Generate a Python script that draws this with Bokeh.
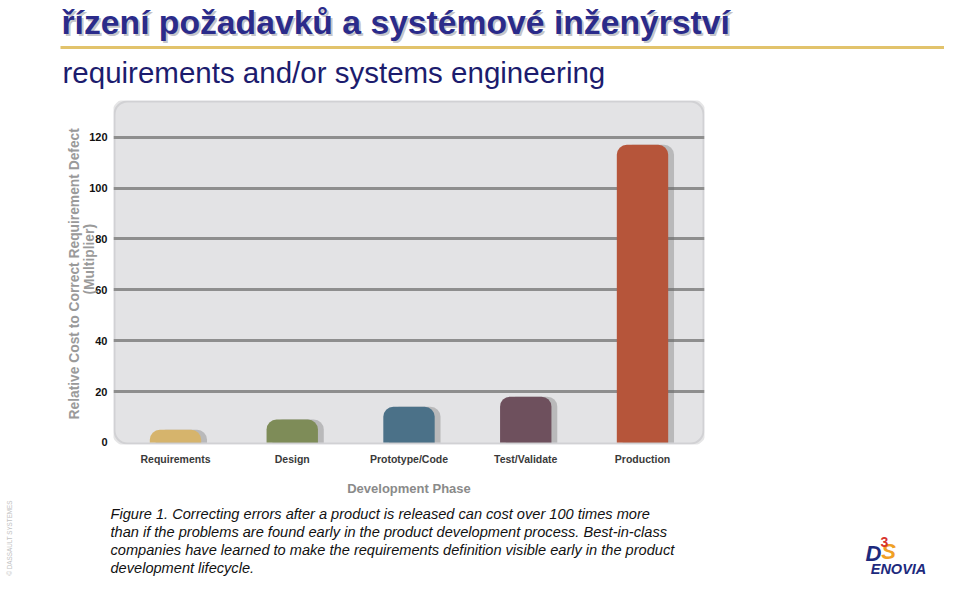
from math import pi
from bokeh.plotting import figure
from bokeh.layouts import column
from bokeh.models import (FactorRange, Range1d, FixedTicker, ColumnDataSource,
                          BoxAnnotation, Label, Title)
from bokeh.transform import dodge
from bokeh.embed import file_html
from bokeh.resources import INLINE

# ---------------- data ----------------
phases = ["Requirements", "Design", "Prototype/Code", "Test/Validate", "Production"]
cost = [5, 9, 14, 18, 117]
bar_colors = ["#d6b46c", "#7e8c58", "#4b7188", "#6e505d", "#b6553a"]
y_ticks = [0, 20, 40, 60, 80, 100, 120]

title_text = "řízení požadavků a systémové inženýrství"
subtitle_text = "requirements and/or systems engineering"
y_label_1 = "Relative Cost to Correct Requirement Defect"
y_label_2 = "(Multiplier)"
x_label = "Development Phase"
caption_lines = [
    "Figure 1. Correcting errors after a product is released can cost over 100 times more",
    "than if the problems are found early in the product development process. Best-in-class",
    "companies have learned to make the requirements definition visible early in the product",
    "development lifecycle.",
]
copyright_text = "© DASSAULT SYSTEMES"
logo_text = "ENOVIA"

SANS = "Liberation Sans"
W = 944

# page rows: header [0, 96), chart [96, 498), footer [498, 577)
HEAD_H, CHART_H, FOOT_H = 96, 402, 79


def blank(height, y_top):
    """A figure whose frame is its whole canvas, data units = page pixels."""
    f = figure(width=W, height=height, output_backend="svg", toolbar_location=None,
               x_range=Range1d(0, W), y_range=Range1d(y_top + height, y_top),
               x_axis_type=None, y_axis_type=None, min_border=0, title=None)
    f.frame_align = False
    f.outline_line_color = None
    f.background_fill_color = "white"
    f.border_fill_color = "white"
    f.xgrid.visible = False
    f.ygrid.visible = False
    return f


def lab(f, text, x, y, size, color, font=SANS, style="normal", align="left",
        baseline="middle", angle=0, alpha=1.0):
    f.add_layout(Label(x=x, y=y, text=text, text_font=font, text_font_size=size,
                       text_font_style=style, text_color=color, text_alpha=alpha,
                       text_align=align, text_baseline=baseline, angle=angle))


# ---------------- header ----------------
head = blank(HEAD_H, 0)
head.add_layout(BoxAnnotation(left=60, right=W, top=45.5, bottom=48.5,
                              fill_color="#e2c36c", fill_alpha=1.0, line_color=None))
lab(head, title_text, 63, 23.5, "33.7px", "#7c7c88", style="bold", alpha=0.45)
lab(head, title_text, 61, 21.5, "33.7px", "#2b2b8a", style="bold")
lab(head, subtitle_text, 62, 72, "29.5px", "#1c1c6e")

# ---------------- chart ----------------
src = ColumnDataSource(dict(phase=phases, cost=cost, color=bar_colors))

p = figure(width=W, height=CHART_H, output_backend="svg", toolbar_location=None,
           x_range=FactorRange(*phases, range_padding=0.0124),
           y_range=Range1d(-0.8, 134.4), title=None)
p.frame_align = False
p.min_border_left = 113
p.min_border_top = 4
p.min_border_right = 240
p.min_border_bottom = 51
p.background_fill_color = "white"
p.border_fill_color = "white"
p.outline_line_color = None

panel = BoxAnnotation(fill_color="#e3e3e5", fill_alpha=1.0,
                      line_color="#a9a9ab", line_width=4, border_radius=14,
                      level="image")
p.add_layout(panel)

p.xgrid.grid_line_color = None
p.ygrid.ticker = FixedTicker(ticks=y_ticks[1:])
p.ygrid.grid_line_color = "#8e8e8e"
p.ygrid.grid_line_width = 3

p.vbar(x=dodge("phase", 0.05, range=p.x_range), top="cost", bottom=0, width=0.44,
       source=src, fill_color="#6a6a6a", fill_alpha=0.35, line_color=None,
       border_radius=(10, 10, 0, 0))
p.vbar(x="phase", top="cost", bottom=0, width=0.44, source=src,
       fill_color="color", line_color=None, border_radius=(10, 10, 0, 0))

for ax in (p.xaxis, p.yaxis):
    ax.axis_line_color = None
    ax.major_tick_line_color = None
    ax.minor_tick_line_color = None
    ax.major_tick_out = 0
    ax.major_tick_in = 0
    ax.minor_tick_out = 0
    ax.major_label_text_font = SANS
    ax.major_label_text_font_style = "bold"

p.yaxis.ticker = FixedTicker(ticks=y_ticks)
p.yaxis.major_label_standoff = 6
p.yaxis.major_label_text_font_size = "11px"
p.yaxis.major_label_text_color = "#111111"

p.xaxis.major_label_standoff = 8
p.xaxis.major_label_text_font_size = "10.5px"
p.xaxis.major_label_text_color = "#3a3a3a"
p.xaxis.axis_label = x_label
p.xaxis.axis_label_standoff = 13
p.xaxis.axis_label_text_font = SANS
p.xaxis.axis_label_text_font_style = "bold"
p.xaxis.axis_label_text_font_size = "13px"
p.xaxis.axis_label_text_color = "#8a8a8a"

# y-axis title, two lines (inner line first)
for txt, off, so in [(y_label_2, 150, -20), (y_label_1, 25, 9)]:
    p.add_layout(Title(text=txt, align="left", offset=off, standoff=so,
                       text_font=SANS, text_font_size="13.8px",
                       text_font_style="bold", text_color="#9a9a9a"), "left")

# ---------------- footer ----------------
foot = blank(FOOT_H, 498)
for i, line in enumerate(caption_lines):
    lab(foot, line, 110, 513 + 18 * i, "14.6px", "#111111", style="italic")
lab(foot, copyright_text, 9, 537.5, "6.3px", "#c2c2c2", align="center", angle=pi / 2)
lab(foot, "D", 873, 553, "22px", "#1d2a7d", style="bold italic", align="center")
lab(foot, "S", 888, 551, "22px", "#f0a024", style="bold italic", align="center")
lab(foot, "3", 884, 541, "14px", "#d8342c", style="bold", align="center")
lab(foot, logo_text, 898, 568, "14.5px", "#1d2a7d", style="bold italic",
    align="center")

layout = column(head, p, foot)
open("out.html", "w").write(file_html(layout, INLINE))
